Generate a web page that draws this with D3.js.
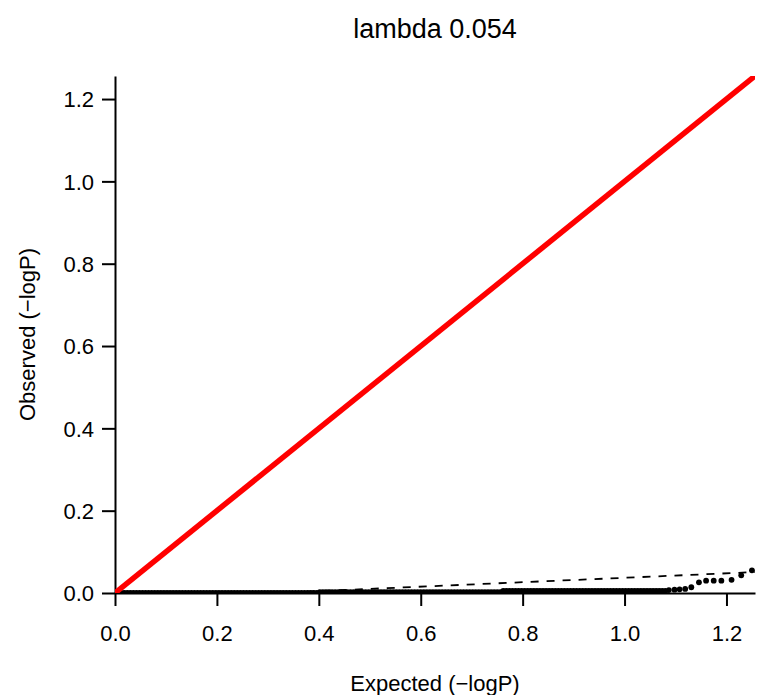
<!DOCTYPE html>
<html>
<head>
<meta charset="utf-8">
<script src="https://cdn.jsdelivr.net/npm/d3@7"></script>
<style>
  body { margin: 0; background: #fff; }
  svg { display: block; }
  text { font-family: "Liberation Sans", Arial, Helvetica, sans-serif; fill: #000; }
</style>
</head>
<body>
<svg id="chart" width="771" height="695"></svg>
<script>
// Labels and axis set-up
const titleText = "lambda 0.054";
const xLabel = "Expected (\u2212logP)";
const yLabel = "Observed (\u2212logP)";
const axisMax = [1.256];
const tickValues = [0, 0.2, 0.4, 0.6, 0.8, 1.0, 1.2];

// Fitted line (dashed): slope = lambda, intercept
const fitLine = [0.054, -0.017];

// Dense run of points along the bottom, in three levels of observed -logP
const bandExpectedA = [0.000,0.006,0.012,0.018,0.024,0.030,0.036,0.042,0.048,0.054,
  0.060,0.066,0.072,0.078,0.084,0.090,0.096,0.102,0.108,0.114,
  0.120,0.126,0.132,0.138,0.144,0.150,0.156,0.162,0.168,0.174,
  0.180,0.186,0.192,0.198,0.204,0.210,0.216,0.222,0.228,0.234,
  0.240,0.246,0.252,0.258,0.264,0.270,0.276,0.282,0.288,0.294,
  0.300,0.306,0.312,0.318,0.324,0.330,0.336,0.342,0.348,0.354,
  0.360,0.366,0.372,0.378,0.384,0.390,0.396];
const bandExpectedB = [0.402,0.408,0.414,0.420,0.426,0.432,0.438,0.444,0.450,0.456,
  0.462,0.468,0.474,0.480,0.486,0.492,0.498,0.504,0.510,0.516,
  0.522,0.528,0.534,0.540,0.546,0.552,0.558,0.564,0.570,0.576,
  0.582,0.588,0.594,0.600,0.606,0.612,0.618,0.624,0.630,0.636,
  0.642,0.648,0.654,0.660,0.666,0.672,0.678,0.684,0.690,0.696,
  0.702,0.708,0.714,0.720,0.726,0.732,0.738,0.744,0.750,0.756];
const bandExpectedC = [0.762,0.768,0.774,0.780,0.786,0.792,0.798,0.804,0.810,0.816,
  0.822,0.828,0.834,0.840,0.846,0.852,0.858,0.864,0.870,0.876,
  0.882,0.888,0.894,0.900,0.906,0.912,0.918,0.924,0.930,0.936,
  0.942,0.948,0.954,0.960,0.966,0.972,0.978,0.984,0.990,0.996,
  1.002,1.008,1.014,1.020,1.026,1.032,1.038,1.044,1.050,1.056,
  1.062,1.068,1.074,1.080];
const bandObserved = [0.000, 0.002, 0.005];

// Upper tail points
const tailExpected = [1.087, 1.098, 1.108, 1.119, 1.131, 1.146, 1.160, 1.175, 1.190, 1.210, 1.229, 1.250];
const tailObserved = [0.007, 0.008, 0.009, 0.010, 0.014, 0.026, 0.030, 0.030, 0.030, 0.032, 0.043, 0.055];

// Assemble point records
const points = [];
[bandExpectedA, bandExpectedB, bandExpectedC].forEach((xs, g) =>
  xs.forEach(e => points.push({ e, o: bandObserved[g] })));
tailExpected.forEach((e, i) => points.push({ e, o: tailObserved[i] }));

const svg = d3.select("#chart");
svg.append("rect").attr("width", 771).attr("height", 695).attr("fill", "#fff");

const plot = { left: 115, right: 755, top: 76, bottom: 593 };
const x = d3.scaleLinear().domain([0, axisMax[0]]).range([plot.left, plot.right]);
const y = d3.scaleLinear().domain([0, axisMax[0]]).range([plot.bottom, plot.top]);

svg.append("defs").append("clipPath").attr("id", "plotClip")
  .append("rect")
  .attr("x", plot.left).attr("y", plot.top)
  .attr("width", plot.right - plot.left).attr("height", plot.bottom - plot.top);

const fmt = d3.format(".1f");

// Axes
const xAxis = svg.append("g")
  .attr("transform", `translate(0,${plot.bottom})`)
  .call(d3.axisBottom(x).tickValues(tickValues).tickFormat(fmt)
    .tickSize(13).tickSizeOuter(0).tickPadding(19));
const yAxis = svg.append("g")
  .attr("transform", `translate(${plot.left},0)`)
  .call(d3.axisLeft(y).tickValues(tickValues).tickFormat(fmt)
    .tickSize(13).tickSizeOuter(0).tickPadding(8));
[xAxis, yAxis].forEach(g => {
  g.selectAll("path.domain").attr("stroke", "#000").attr("stroke-width", 2);
  g.selectAll(".tick line").attr("stroke", "#000").attr("stroke-width", 2);
  g.selectAll(".tick text").attr("font-size", 22).attr("fill", "#000")
    .attr("font-family", "Liberation Sans, Arial, sans-serif");
});
yAxis.selectAll(".tick text").attr("dy", "0.36em");

const layer = svg.append("g").attr("clip-path", "url(#plotClip)");

// Dashed fitted line
layer.append("line")
  .attr("x1", x(0)).attr("y1", y(fitLine[1]))
  .attr("x2", x(axisMax[0] + 0.05)).attr("y2", y(fitLine[1] + fitLine[0] * (axisMax[0] + 0.05)))
  .attr("stroke", "#000").attr("stroke-width", 1.8)
  .attr("stroke-dasharray", "8,8");

// Points
layer.selectAll("circle.pt").data(points).join("circle")
  .attr("class", "pt")
  .attr("cx", d => x(d.e)).attr("cy", d => y(d.o))
  .attr("r", 2.9).attr("fill", "#000");

// Identity line
layer.append("line")
  .attr("x1", x(0)).attr("y1", y(0))
  .attr("x2", x(axisMax[0] + 0.1)).attr("y2", y(axisMax[0] + 0.1))
  .attr("stroke", "#ff0000").attr("stroke-width", 5.5);

// Titles
svg.append("text").attr("x", (plot.left + plot.right) / 2).attr("y", 38)
  .attr("text-anchor", "middle").attr("font-size", 27).text(titleText);
svg.append("text").attr("x", (plot.left + plot.right) / 2).attr("y", 691)
  .attr("text-anchor", "middle").attr("font-size", 22).text(xLabel);
svg.append("text")
  .attr("transform", `translate(35,${(plot.top + plot.bottom) / 2}) rotate(-90)`)
  .attr("text-anchor", "middle").attr("font-size", 22).text(yLabel);
</script>
</body>
</html>
